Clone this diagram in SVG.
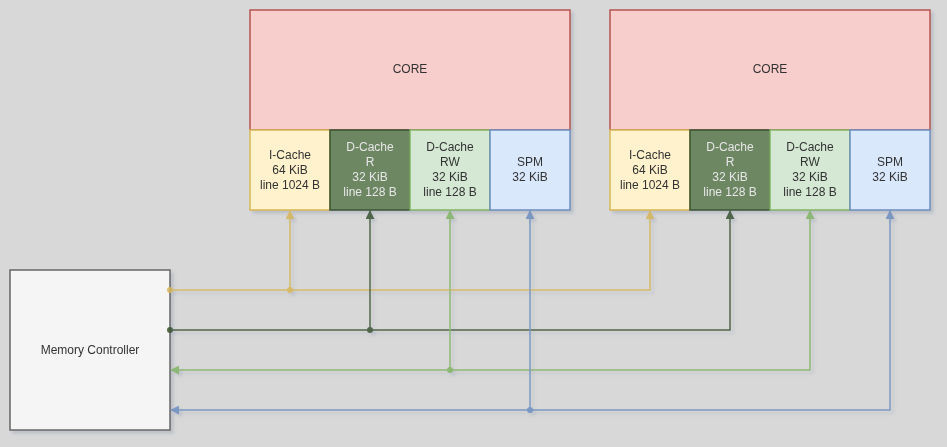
<svg xmlns="http://www.w3.org/2000/svg" width="947" height="447" viewBox="0 0 947 447">
<defs>
<style>
text{font-family:"Liberation Sans",Arial,sans-serif;font-size:12px;fill:#333333;text-anchor:middle}
.w{fill:#e6e6e6}
.n rect{stroke-width:1.5}
.c{fill:none;stroke-width:1.5}
</style>
<filter id="sh" x="-10%" y="-10%" width="130%" height="130%">
<feGaussianBlur in="SourceAlpha" stdDeviation="1.5"/>
<feOffset dx="3" dy="3" result="b"/>
<feFlood flood-color="#6c7a99" flood-opacity="0.25"/>
<feComposite in2="b" operator="in"/>
<feMerge><feMergeNode/><feMergeNode in="SourceGraphic"/></feMerge>
</filter>
<marker id="aY" viewBox="0 0 10 10" refX="9" refY="5" markerWidth="6" markerHeight="6" orient="auto-start-reverse"><path d="M0,0L10,5L0,10z" fill="#d6b656"/></marker>
<marker id="aD" viewBox="0 0 10 10" refX="9" refY="5" markerWidth="6" markerHeight="6" orient="auto-start-reverse"><path d="M0,0L10,5L0,10z" fill="#3a5431"/></marker>
<marker id="aG" viewBox="0 0 10 10" refX="9" refY="5" markerWidth="6" markerHeight="6" orient="auto-start-reverse"><path d="M0,0L10,5L0,10z" fill="#82b366"/></marker>
<marker id="aB" viewBox="0 0 10 10" refX="9" refY="5" markerWidth="6" markerHeight="6" orient="auto-start-reverse"><path d="M0,0L10,5L0,10z" fill="#6c8ebf"/></marker>
</defs>
<rect width="947" height="447" fill="#d8d8d8"/>
<g filter="url(#sh)">
<g id="core1" class="n"><rect x="250" y="10" width="320" height="120" fill="#f8cecc" stroke="#b85450"/><text x="410" y="73">CORE</text></g>
<g id="icache1" class="n"><rect x="250" y="130" width="80" height="80" fill="#fff2cc" stroke="#d6b656"/><text x="290" y="159">I-Cache</text><text x="290" y="174">64 KiB</text><text x="290" y="189">line 1024 B</text></g>
<g id="dcacher1" class="n"><rect x="330" y="130" width="80" height="80" fill="#6d8764" stroke="#3a5431"/><text class="w" x="370" y="151">D-Cache</text><text class="w" x="370" y="166">R</text><text class="w" x="370" y="181">32 KiB</text><text class="w" x="370" y="196">line 128 B</text></g>
<g id="dcacherw1" class="n"><rect x="410" y="130" width="80" height="80" fill="#d5e8d4" stroke="#82b366"/><text x="450" y="151">D-Cache</text><text x="450" y="166">RW</text><text x="450" y="181">32 KiB</text><text x="450" y="196">line 128 B</text></g>
<g id="spm1" class="n"><rect x="490" y="130" width="80" height="80" fill="#dae8fc" stroke="#6c8ebf"/><text x="530" y="166">SPM</text><text x="530" y="181">32 KiB</text></g>

<g id="core2" class="n"><rect x="610" y="10" width="320" height="120" fill="#f8cecc" stroke="#b85450"/><text x="770" y="73">CORE</text></g>
<g id="icache2" class="n"><rect x="610" y="130" width="80" height="80" fill="#fff2cc" stroke="#d6b656"/><text x="650" y="159">I-Cache</text><text x="650" y="174">64 KiB</text><text x="650" y="189">line 1024 B</text></g>
<g id="dcacher2" class="n"><rect x="690" y="130" width="80" height="80" fill="#6d8764" stroke="#3a5431"/><text class="w" x="730" y="151">D-Cache</text><text class="w" x="730" y="166">R</text><text class="w" x="730" y="181">32 KiB</text><text class="w" x="730" y="196">line 128 B</text></g>
<g id="dcacherw2" class="n"><rect x="770" y="130" width="80" height="80" fill="#d5e8d4" stroke="#82b366"/><text x="810" y="151">D-Cache</text><text x="810" y="166">RW</text><text x="810" y="181">32 KiB</text><text x="810" y="196">line 128 B</text></g>
<g id="spm2" class="n"><rect x="850" y="130" width="80" height="80" fill="#dae8fc" stroke="#6c8ebf"/><text x="890" y="166">SPM</text><text x="890" y="181">32 KiB</text></g>

<g id="memctrl" class="n"><rect x="10" y="270" width="160" height="160" fill="#f5f5f5" stroke="#666666"/><text x="90" y="354">Memory Controller</text></g>

<g id="connectors" opacity="0.85">
<path class="c" stroke="#d6b656" d="M170,290H650V211" marker-end="url(#aY)"/>
<path class="c" stroke="#d6b656" d="M290,290V211" marker-end="url(#aY)"/>
<circle cx="170" cy="290" r="3" fill="#d6b656"/><circle cx="290" cy="290" r="3" fill="#d6b656"/>
<path class="c" stroke="#3a5431" d="M170,330H730V211" marker-end="url(#aD)"/>
<path class="c" stroke="#3a5431" d="M370,330V211" marker-end="url(#aD)"/>
<circle cx="170" cy="330" r="3" fill="#3a5431"/><circle cx="370" cy="330" r="3" fill="#3a5431"/>
<path class="c" stroke="#82b366" d="M810,211V370H171" marker-start="url(#aG)" marker-end="url(#aG)"/>
<path class="c" stroke="#82b366" d="M450,370V211" marker-end="url(#aG)"/>
<circle cx="450" cy="370" r="3" fill="#82b366"/>
<path class="c" stroke="#6c8ebf" d="M890,211V410H171" marker-start="url(#aB)" marker-end="url(#aB)"/>
<path class="c" stroke="#6c8ebf" d="M530,410V211" marker-end="url(#aB)"/>
<circle cx="530" cy="410" r="3" fill="#6c8ebf"/>
</g>
</g>
</svg>
